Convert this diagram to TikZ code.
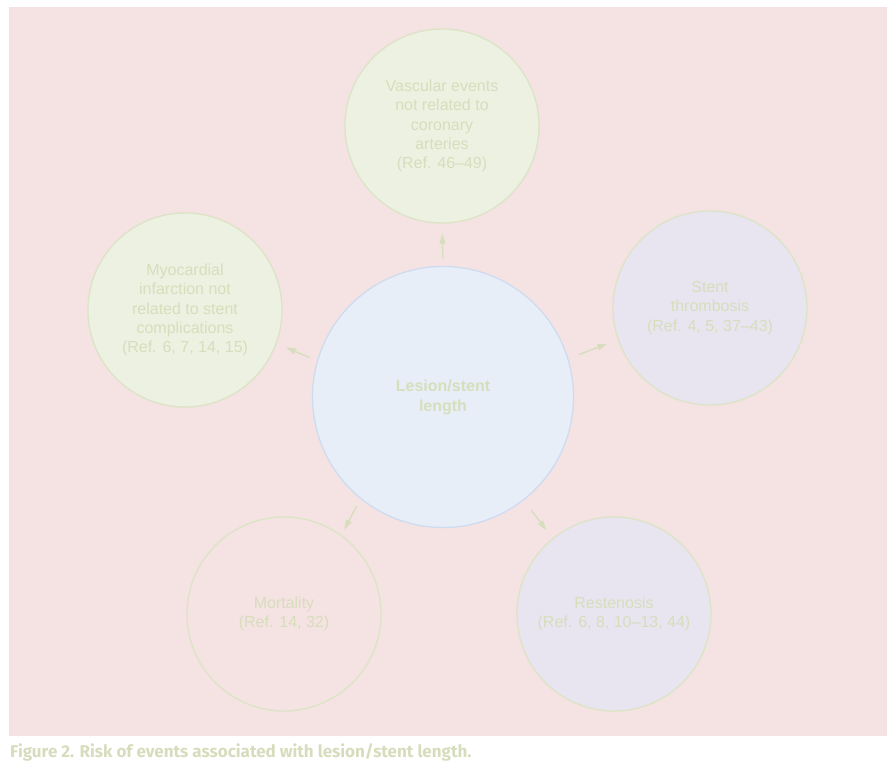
\documentclass[tikz,border=0pt]{standalone}
\usepackage{fontspec}
\setmainfont{Liberation Sans}
\newfontfamily\capfont{Fira Sans}
\usetikzlibrary{arrows.meta}
\definecolor{bgpink}{HTML}{F5E2E3}
\definecolor{txtol}{HTML}{D6DEBC}
\definecolor{capol}{HTML}{D6DDBC}
\definecolor{cfill}{HTML}{E8EEF8}
\definecolor{cborder}{HTML}{CEDCEF}
\definecolor{gfill}{HTML}{EDF1E1}
\definecolor{gborder}{HTML}{DCE4C6}
\definecolor{lfill}{HTML}{E8E5F0}
\definecolor{arrcol}{HTML}{D6DEBE}
\tikzset{
  outer/.style={circle, draw=gborder, line width=1.3pt, minimum size=194pt, inner sep=0pt, align=center, text=txtol, font=\fontsize{16}{19.3}\selectfont},
  greenc/.style={outer, fill=gfill},
  lavc/.style={outer, fill=lfill},
  emptyc/.style={outer},
  centerc/.style={circle, draw=cborder, fill=cfill, line width=1.3pt, minimum size=261pt, inner sep=0pt, align=center, text=txtol, font=\bfseries\fontsize{16}{20}\selectfont},
  arr/.style={draw=arrcol, line width=1.3pt, -{Triangle[length=10pt,width=6pt]}}
}
\begin{document}
\begin{tikzpicture}[x=1pt,y=-1pt]
\useasboundingbox (0,0) rectangle (891,767);
\fill[bgpink] (9,7) rectangle (887,736);
\node[centerc] (c) at (443,397) {Lesion/stent\\length};
\node[greenc] (v) at (442,126) {Vascular events\\not related to\\coronary\\arteries\\(Ref. 46--49)};
\node[greenc] (m) at (185,310) {Myocardial\\infarction not\\related to stent\\complications\\(Ref. 6, 7, 14, 15)};
\node[lavc] (s) at (710,308) {Stent\\thrombosis\\(Ref. 4, 5, 37--43)};
\node[emptyc] (mo) at (284,614) {Mortality\\(Ref. 14, 32)};
\node[lavc] (r) at (614,614) {Restenosis\\(Ref. 6, 8, 10--13, 44)};
\draw[arr, shorten <=7pt, shorten >=10pt] (c.90) -- (v.270);
\draw[arr, shorten <=8pt, shorten >=10pt] (c.164) -- (m.-20);
\draw[arr, shorten <=11pt, shorten >=11pt] (c.17) -- (s.199);
\draw[arr, shorten <=8pt, shorten >=6pt] (c.231.6) -- (mo.54.8);
\draw[arr, shorten <=12pt, shorten >=10pt] (c.308.2) -- (r.129.7);
\node[anchor=base west, inner sep=0pt, text=capol, font=\capfont\bfseries\fontsize{17}{20}\selectfont] (cap) at (10,757) {Figure 2. Risk of events associated with lesion/stent length.};
\end{tikzpicture}
\end{document}
